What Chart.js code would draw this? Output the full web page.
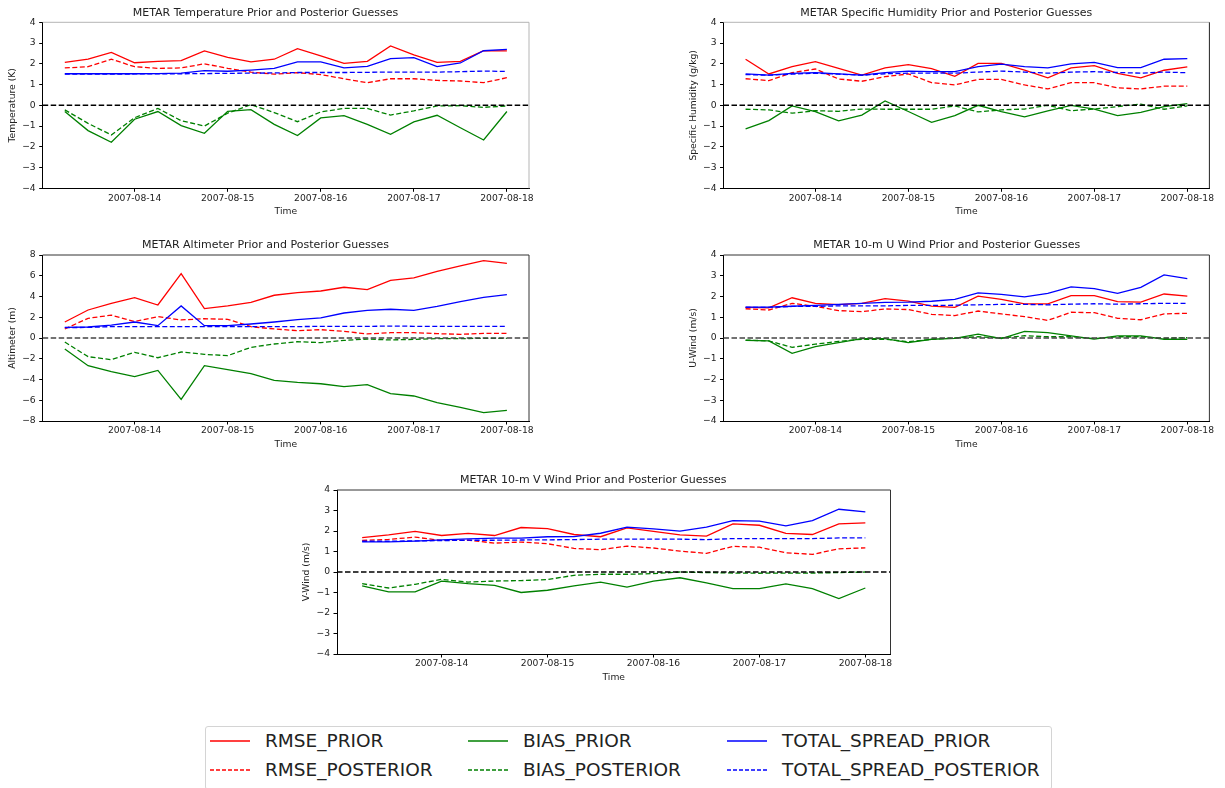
<!DOCTYPE html>
<html>
<head>
<meta charset="utf-8">
<script src="https://cdn.jsdelivr.net/npm/chart.js@4.4.0/dist/chart.umd.min.js"></script>
<style>
    body { margin: 0; background: #fff; width: 1225px; height: 788px; position: relative; overflow: hidden; font-family: "DejaVu Sans", sans-serif; }
    canvas { position: absolute; }
    #legend { position: absolute; left: 205px; top: 726px; width: 847px; height: 64px; border: 1px solid #d4d4d4; border-radius: 3px; box-sizing: border-box; }
    .item { position: absolute; height: 24px; font-size: 18.5px; line-height: 24px; color: #222; white-space: nowrap; }
    .item svg { position: absolute; left: 0; top: 10px; }
    .item span { position: absolute; left: 55px; top: 0; }
</style>
</head>
<body>
<div id="legend"></div>
<script>
// observation times (every 6 h) and the date ticks on the x axis
const obsTimes = [
    "2007-08-13T06:00", "2007-08-13T12:00", "2007-08-13T18:00", "2007-08-14T00:00",
    "2007-08-14T06:00", "2007-08-14T12:00", "2007-08-14T18:00", "2007-08-15T00:00",
    "2007-08-15T06:00", "2007-08-15T12:00", "2007-08-15T18:00", "2007-08-16T00:00",
    "2007-08-16T06:00", "2007-08-16T12:00", "2007-08-16T18:00", "2007-08-17T00:00",
    "2007-08-17T06:00", "2007-08-17T12:00", "2007-08-17T18:00", "2007-08-18T00:00",
]
const tickDates = ["2007-08-14", "2007-08-15", "2007-08-16", "2007-08-17", "2007-08-18"]
const seriesNames = ["RMSE_PRIOR", "RMSE_POSTERIOR", "BIAS_PRIOR", "BIAS_POSTERIOR", "TOTAL_SPREAD_PRIOR", "TOTAL_SPREAD_POSTERIOR"]

// Temperature (K)
const tempRmsePrior = [2.07, 2.23, 2.55, 2.05, 2.12, 2.15, 2.62, 2.31, 2.09, 2.22, 2.73, 2.38, 2.02, 2.12, 2.86, 2.43, 2.07, 2.12, 2.63, 2.62]
const tempRmsePost = [1.80, 1.86, 2.22, 1.86, 1.78, 1.80, 2.00, 1.78, 1.60, 1.50, 1.57, 1.48, 1.28, 1.09, 1.28, 1.28, 1.20, 1.17, 1.09, 1.33]
const tempBiasPrior = [-0.30, -1.22, -1.78, -0.67, -0.30, -0.98, -1.35, -0.29, -0.21, -0.92, -1.46, -0.61, -0.50, -0.92, -1.40, -0.80, -0.48, -1.08, -1.67, -0.30]
const tempBiasPost = [-0.22, -0.87, -1.43, -0.60, -0.15, -0.74, -1.00, -0.38, 0.03, -0.35, -0.79, -0.32, -0.15, -0.15, -0.47, -0.27, -0.03, -0.02, -0.10, -0.03]
const tempSpreadPrior = [1.52, 1.52, 1.52, 1.52, 1.53, 1.55, 1.67, 1.64, 1.70, 1.78, 2.09, 2.09, 1.80, 1.88, 2.25, 2.30, 1.86, 2.04, 2.63, 2.70]
const tempSpreadPost = [1.50, 1.50, 1.50, 1.51, 1.51, 1.52, 1.53, 1.54, 1.55, 1.56, 1.58, 1.58, 1.58, 1.59, 1.60, 1.60, 1.60, 1.62, 1.65, 1.63]

// Specific humidity (g/kg)
const humRmsePrior = [2.22, 1.51, 1.86, 2.10, 1.78, 1.46, 1.80, 1.96, 1.77, 1.40, 2.02, 2.02, 1.70, 1.32, 1.80, 1.91, 1.54, 1.32, 1.69, 1.85]
const humRmsePost = [1.28, 1.19, 1.57, 1.75, 1.27, 1.16, 1.38, 1.51, 1.09, 0.98, 1.25, 1.25, 0.98, 0.79, 1.09, 1.09, 0.84, 0.79, 0.92, 0.92]
const humBiasPrior = [-1.14, -0.74, -0.03, -0.30, -0.75, -0.47, 0.21, -0.30, -0.82, -0.50, 0.00, -0.30, -0.56, -0.27, 0.00, -0.18, -0.50, -0.34, -0.06, 0.08]
const humBiasPost = [-0.19, -0.22, -0.38, -0.26, -0.29, -0.18, -0.19, -0.19, -0.19, -0.03, -0.32, -0.22, -0.18, 0.00, -0.26, -0.18, -0.06, 0.06, -0.19, -0.03]
const humSpreadPrior = [1.51, 1.45, 1.54, 1.57, 1.51, 1.45, 1.57, 1.65, 1.62, 1.62, 1.86, 1.98, 1.86, 1.80, 2.00, 2.07, 1.82, 1.82, 2.22, 2.25]
const humSpreadPost = [1.48, 1.45, 1.50, 1.55, 1.50, 1.45, 1.52, 1.55, 1.55, 1.55, 1.60, 1.65, 1.60, 1.55, 1.60, 1.62, 1.58, 1.55, 1.60, 1.57]

// Altimeter (m)
const altRmsePrior = [1.54, 2.70, 3.34, 3.89, 3.18, 6.20, 2.83, 3.09, 3.44, 4.12, 4.37, 4.53, 4.89, 4.66, 5.56, 5.79, 6.43, 6.95, 7.46, 7.20]
const altRmsePost = [0.87, 1.90, 2.20, 1.58, 2.06, 1.74, 1.86, 1.80, 1.09, 0.87, 0.71, 0.80, 0.64, 0.39, 0.51, 0.51, 0.42, 0.35, 0.45, 0.45]
const altBiasPrior = [-1.06, -2.67, -3.25, -3.73, -3.12, -5.92, -2.67, -3.05, -3.44, -4.08, -4.28, -4.41, -4.69, -4.50, -5.37, -5.59, -6.24, -6.69, -7.20, -6.98]
const altBiasPost = [-0.39, -1.80, -2.09, -1.38, -1.90, -1.35, -1.58, -1.70, -0.90, -0.58, -0.35, -0.45, -0.23, -0.10, -0.19, -0.13, -0.06, -0.06, -0.03, -0.03]
const altSpreadPrior = [1.03, 1.06, 1.25, 1.54, 1.19, 3.09, 1.19, 1.19, 1.35, 1.54, 1.77, 1.93, 2.41, 2.67, 2.77, 2.67, 3.05, 3.50, 3.92, 4.18]
const altSpreadPost = [1.00, 1.02, 1.10, 1.10, 1.10, 1.10, 1.10, 1.10, 1.10, 1.10, 1.10, 1.12, 1.12, 1.12, 1.15, 1.13, 1.12, 1.12, 1.12, 1.12]

// 10-m U wind (m/s)
const uRmsePrior = [1.48, 1.45, 1.94, 1.67, 1.61, 1.67, 1.90, 1.78, 1.54, 1.48, 2.02, 1.86, 1.64, 1.64, 2.04, 2.04, 1.75, 1.73, 2.12, 2.02]
const uRmsePost = [1.41, 1.35, 1.67, 1.53, 1.32, 1.27, 1.40, 1.37, 1.14, 1.08, 1.30, 1.16, 1.03, 0.85, 1.24, 1.22, 0.95, 0.88, 1.16, 1.19]
const uBiasPrior = [-0.11, -0.14, -0.74, -0.42, -0.22, -0.03, -0.03, -0.22, -0.06, -0.02, 0.19, -0.03, 0.32, 0.26, 0.10, -0.05, 0.10, 0.10, -0.06, -0.06]
const uBiasPost = [-0.10, -0.14, -0.45, -0.30, -0.16, -0.06, -0.06, -0.18, -0.06, 0.00, 0.06, 0.00, 0.11, 0.06, 0.06, -0.03, 0.06, 0.06, -0.02, 0.02]
const uSpreadPrior = [1.49, 1.49, 1.53, 1.57, 1.62, 1.67, 1.72, 1.73, 1.77, 1.86, 2.17, 2.10, 1.98, 2.15, 2.46, 2.38, 2.15, 2.44, 3.04, 2.86]
const uSpreadPost = [1.48, 1.48, 1.52, 1.52, 1.55, 1.55, 1.55, 1.57, 1.57, 1.58, 1.60, 1.62, 1.62, 1.60, 1.63, 1.65, 1.63, 1.65, 1.67, 1.67]

// 10-m V wind (m/s)
const vRmsePrior = [1.68, 1.81, 1.98, 1.78, 1.88, 1.78, 2.17, 2.12, 1.83, 1.72, 2.15, 1.98, 1.81, 1.75, 2.35, 2.28, 1.88, 1.83, 2.35, 2.40]
const vRmsePost = [1.54, 1.59, 1.70, 1.54, 1.55, 1.41, 1.46, 1.38, 1.15, 1.09, 1.26, 1.17, 1.02, 0.91, 1.25, 1.21, 0.94, 0.86, 1.13, 1.18]
const vBiasPrior = [-0.68, -0.97, -0.97, -0.45, -0.57, -0.65, -1.00, -0.89, -0.68, -0.49, -0.74, -0.45, -0.28, -0.53, -0.81, -0.81, -0.58, -0.81, -1.30, -0.78]
const vBiasPost = [-0.57, -0.78, -0.60, -0.36, -0.49, -0.44, -0.42, -0.37, -0.16, -0.11, -0.11, -0.08, 0.00, -0.03, -0.05, -0.06, -0.05, -0.05, -0.03, 0.00]
const vSpreadPrior = [1.47, 1.47, 1.51, 1.57, 1.62, 1.65, 1.65, 1.72, 1.73, 1.89, 2.19, 2.10, 1.99, 2.19, 2.51, 2.48, 2.25, 2.51, 3.06, 2.93]
const vSpreadPost = [1.50, 1.50, 1.52, 1.53, 1.55, 1.55, 1.56, 1.57, 1.58, 1.60, 1.60, 1.60, 1.60, 1.58, 1.63, 1.63, 1.63, 1.63, 1.66, 1.66]


const FONT = "DejaVu Sans"
const TEXT = "#222"
const lineColors = ["#ff0000", "#ff0000", "#008000", "#008000", "#0000ff", "#0000ff"]
const dashed = [false, true, false, true, false, true]

// hours since 2007-08-13 00:00
const t0 = Date.parse("2007-08-13T00:00:00Z")
const toHours = (s) => (Date.parse(s + ":00Z") - t0) / 3600000
const obsHours = obsTimes.map(toHours)
const tickHours = tickDates.map((d) => toHours(d + "T00:00"))

// matplotlib style 5% margin on x
const span = obsHours[obsHours.length - 1] - obsHours[0]
const xMin = obsHours[0] - 0.05 * span
const xMax = obsHours[obsHours.length - 1] + 0.05 * span

// panel layout: plot area [left, top, right, bottom] on the page
const panels = [
    {
        title: "METAR Temperature Prior and Posterior Guesses", ylabel: "Temperature (K)",
        series: [tempRmsePrior, tempRmsePost, tempBiasPrior, tempBiasPost, tempSpreadPrior, tempSpreadPost],
        yMin: -4, yMax: 4, yStep: 1, area: [42.7, 22.3, 529, 188.3], ylabX: 12.7,
        zero: "#000", frameTop: "#b5b5b5", frameRight: "#b5b5b5",
    },
    {
        title: "METAR Specific Humidity Prior and Posterior Guesses", ylabel: "Specific Humidity (g/kg)",
        series: [humRmsePrior, humRmsePost, humBiasPrior, humBiasPost, humSpreadPrior, humSpreadPost],
        yMin: -4, yMax: 4, yStep: 1, area: [723.5, 22.3, 1209.4, 188.3], ylabX: 693.3,
        zero: "#000", frameTop: "#b5b5b5", frameRight: "#222",
    },
    {
        title: "METAR Altimeter Prior and Posterior Guesses", ylabel: "Altimeter (m)",
        series: [altRmsePrior, altRmsePost, altBiasPrior, altBiasPost, altSpreadPrior, altSpreadPost],
        yMin: -8, yMax: 8, yStep: 2, area: [42.7, 255, 529, 421], ylabX: 12.7,
        zero: "#444", frameTop: "#333", frameRight: "#333",
    },
    {
        title: "METAR 10-m U Wind Prior and Posterior Guesses", ylabel: "U-Wind (m/s)",
        series: [uRmsePrior, uRmsePost, uBiasPrior, uBiasPost, uSpreadPrior, uSpreadPost],
        yMin: -4, yMax: 4, yStep: 1, area: [723.5, 255, 1209.4, 421], ylabX: 694,
        zero: "#444", frameTop: "#333", frameRight: "#333",
    },
    {
        title: "METAR 10-m V Wind Prior and Posterior Guesses", ylabel: "V-Wind (m/s)",
        series: [vRmsePrior, vRmsePost, vBiasPrior, vBiasPost, vSpreadPrior, vSpreadPost],
        yMin: -4, yMax: 4, yStep: 1, area: [337, 490, 890.5, 654], ylabX: 306.7,
        zero: "#000", frameTop: "#333", frameRight: "#333",
    },
]

// zero line + top/right spines
const framePlugin = {
    id: "frame",
    afterDatasetsDraw(chart, args, opts) {
        const { ctx, chartArea: a } = chart
        const y0 = chart.scales.y.getPixelForValue(0)
        ctx.save()
        ctx.lineWidth = 1.4
        ctx.strokeStyle = opts.zero
        ctx.setLineDash([5.5, 2.5])
        ctx.beginPath()
        ctx.moveTo(a.left, y0)
        ctx.lineTo(a.right, y0)
        ctx.stroke()
        ctx.setLineDash([])
        ctx.lineWidth = 1
        ctx.strokeStyle = opts.frameTop
        ctx.beginPath()
        ctx.moveTo(a.left, a.top)
        ctx.lineTo(a.right, a.top)
        ctx.stroke()
        ctx.strokeStyle = opts.frameRight
        ctx.beginPath()
        ctx.moveTo(a.right, a.top)
        ctx.lineTo(a.right, a.bottom)
        ctx.stroke()
        ctx.restore()
    },
}

const fmtY = (v) => (v < 0 ? "\u2212" + Math.abs(v) : String(v))

panels.forEach((p) => {
    const [L, T, R, B] = p.area
    const cx = Math.floor(p.ylabX - 10)
    const cy = Math.floor(T - 22)
    const cw = Math.ceil(R - cx + 26)
    const ch = Math.ceil(B - cy + 32)
    const xH = cy + ch - B

    const canvas = document.createElement("canvas")
    canvas.width = cw
    canvas.height = ch
    canvas.style.left = cx + "px"
    canvas.style.top = cy + "px"
    document.body.appendChild(canvas)

    const titlePadTop = T - 9.5 - cy - 0.6 * 11
    const titlePadBottom = T - cy - 1.2 * 11 - titlePadTop

    const datasets = p.series.map((values, i) => ({
        label: seriesNames[i],
        data: values.map((v, j) => ({ x: obsHours[j], y: v })),
        borderColor: lineColors[i],
        borderWidth: 1.3,
        borderDash: dashed[i] ? [5, 2.5] : [],
        pointRadius: 0,
        tension: 0,
        fill: false,
        order: seriesNames.length - i,
    }))

    new Chart(canvas.getContext("2d"), {
        type: "line",
        data: { datasets },
        plugins: [framePlugin],
        options: {
            responsive: false,
            animation: false,
            events: [],
            layout: { padding: { left: 0, top: 0, right: cx + cw - R, bottom: 0 } },
            plugins: {
                legend: { display: false },
                tooltip: { enabled: false },
                title: {
                    display: true,
                    text: p.title,
                    color: TEXT,
                    font: { family: FONT, size: 11, weight: "normal" },
                    padding: { top: titlePadTop, bottom: titlePadBottom },
                },
                frame: { zero: p.zero, frameTop: p.frameTop, frameRight: p.frameRight },
            },
            scales: {
                x: {
                    type: "linear",
                    min: xMin,
                    max: xMax,
                    afterBuildTicks: (s) => { s.ticks = tickHours.map((v) => ({ value: v })) },
                    afterFit: (s) => { s.height = xH },
                    ticks: {
                        callback: (v) => tickDates[tickHours.indexOf(v)],
                        autoSkip: false,
                        maxRotation: 0,
                        padding: 1,
                        color: TEXT,
                        font: { family: FONT, size: 9.2 },
                    },
                    grid: { drawOnChartArea: false, tickLength: 3.5, color: "#000" },
                    border: { color: "#000", width: 1 },
                    title: {
                        display: true, text: "Time", color: TEXT,
                        font: { family: FONT, size: 9.2 },
                        padding: { top: 0, bottom: xH - 23.4 - 0.6 * 9.2 },
                    },
                },
                y: {
                    min: p.yMin,
                    max: p.yMax,
                    afterFit: (s) => { s.width = L - cx },
                    ticks: {
                        stepSize: p.yStep,
                        callback: fmtY,
                        padding: 3.5,
                        color: TEXT,
                        font: { family: FONT, size: 9.2 },
                    },
                    grid: { drawOnChartArea: false, tickLength: 3.5, color: "#000" },
                    border: { color: "#000", width: 1 },
                    title: {
                        display: true, text: p.ylabel, color: TEXT,
                        font: { family: FONT, size: 9.2 },
                        padding: { top: p.ylabX - cx - 0.6 * 9.2, bottom: 0 },
                    },
                },
            },
        },
    })
})

// shared legend below the panels (3 columns, 2 rows)
const legend = document.getElementById("legend")
const colX = [210, 468, 727]
const rowY = [741, 770]
const svgNS = "http://www.w3.org/2000/svg"
seriesNames.forEach((name, i) => {
    const item = document.createElement("div")
    item.className = "item"
    item.style.left = (colX[Math.floor(i / 2)] - 206) + "px"
    item.style.top = (rowY[i % 2] - 12 - 727) + "px"

    const svg = document.createElementNS(svgNS, "svg")
    svg.setAttribute("width", "40")
    svg.setAttribute("height", "4")
    const line = document.createElementNS(svgNS, "line")
    line.setAttribute("x1", "0")
    line.setAttribute("x2", "40")
    line.setAttribute("y1", "2")
    line.setAttribute("y2", "2")
    line.setAttribute("stroke", lineColors[i])
    line.setAttribute("stroke-width", "1.4")
    if (dashed[i]) line.setAttribute("stroke-dasharray", "4 2")
    svg.appendChild(line)

    const label = document.createElement("span")
    label.textContent = name
    item.appendChild(svg)
    item.appendChild(label)
    legend.appendChild(item)
})
</script>
</body>
</html>
